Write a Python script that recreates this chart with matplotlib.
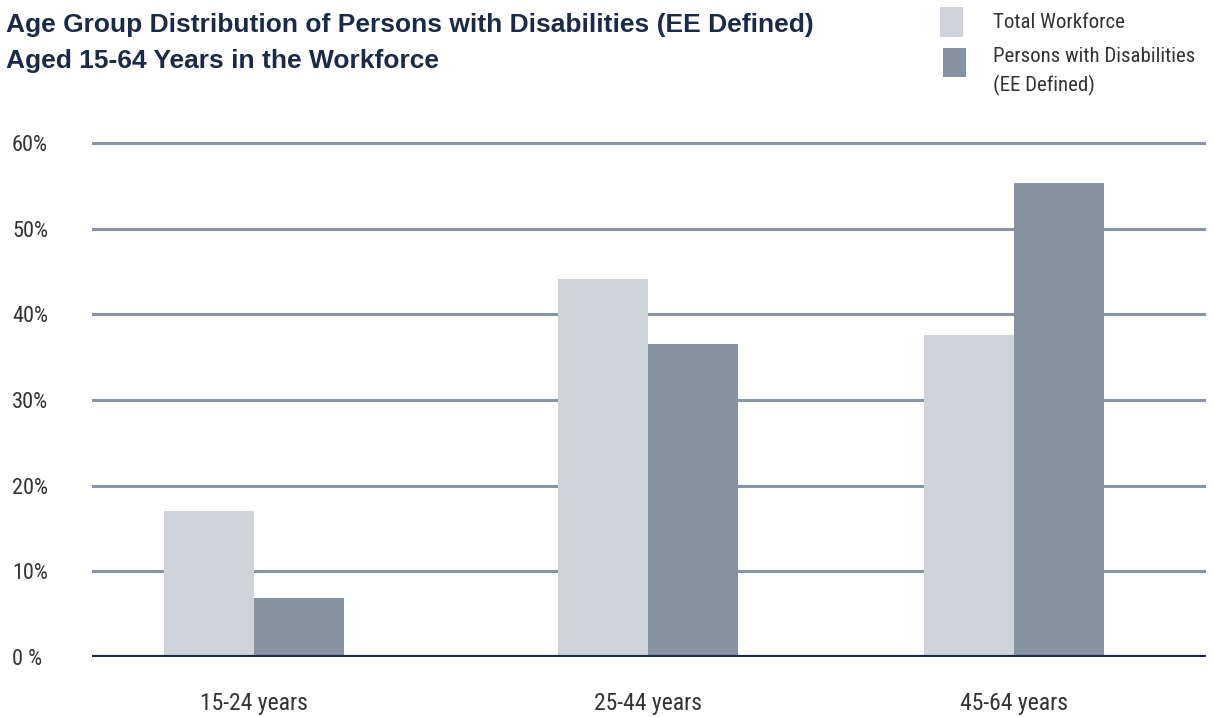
import matplotlib
matplotlib.use("Agg")
import matplotlib.pyplot as plt
from matplotlib import font_manager
from matplotlib.patches import Rectangle

# Data
categories = ["15-24 years", "25-44 years", "45-64 years"]
total_workforce = [17.0, 44.1, 37.6]
persons_disab = [6.9, 36.5, 55.3]
series_names = ["Total Workforce", "Persons with Disabilities", "(EE Defined)"]
ytick_values = [0, 10, 20, 30, 40, 50, 60]
ytick_labels = ["0 %", "10%", "20%", "30%", "40%", "50%", "60%"]
title_lines = ["Age Group Distribution of Persons with Disabilities (EE Defined)",
               "Aged 15-64 Years in the Workforce"]

names = {f.name for f in font_manager.fontManager.ttflist}


def pick(cands):
    for c in cands:
        if c in names:
            return c
    return "DejaVu Sans"


body_font = pick(["Roboto Condensed", "Liberation Sans Narrow", "Roboto", "Liberation Sans"])
title_font = pick(["Liberation Sans", "Roboto"])
plt.rcParams["font.family"] = [body_font, "DejaVu Sans"]

LIGHT = "#cfd4dc"
DARK = "#8793a1"
GRID = "#8a95a3"
NAVY = "#1b2b47"
TEXT = "#333333"

W, H = 1214, 717
fig = plt.figure(figsize=(W / 100, H / 100), dpi=100)

ax_left, ax_right = 92, 1206
ax_bottom, ax_top = 657, 130
ax = fig.add_axes([ax_left / W, 1 - ax_bottom / H, (ax_right - ax_left) / W, (ax_bottom - ax_top) / H])

ymax = (ax_bottom - ax_top) / ((657 - 143) / 60)
ax.set_ylim(0, ymax)

# group centres in data units (uneven spacing)
positions = [0.0, 1.0, 1.929]
bar_w = 0.228
ax.set_xlim(-0.411, 2.416)

ax.bar([p - bar_w / 2 for p in positions], total_workforce, width=bar_w, color=LIGHT, zorder=3, linewidth=0)
ax.bar([p + bar_w / 2 for p in positions], persons_disab, width=bar_w, color=DARK, zorder=3, linewidth=0)

for v in ytick_values[1:]:
    ax.axhline(v, color=GRID, lw=2.2, zorder=1)
ax.axhline(0, color=NAVY, lw=3, zorder=4)

for s in ax.spines.values():
    s.set_visible(False)
ax.set_yticks(ytick_values)
ax.set_yticklabels(ytick_labels, fontsize=16, color=TEXT)
ax.tick_params(axis="y", length=0, pad=(ax_left - 12) * 0.72)
for lbl in ax.get_yticklabels():
    lbl.set_horizontalalignment("left")
ax.set_xticks(positions)
ax.set_xticklabels(categories, fontsize=17, color=TEXT)
ax.tick_params(axis="x", length=0, pad=25)

# Title
for txt, base in zip(title_lines, [32, 68]):
    fig.text(6 / W, 1 - base / H, txt, fontsize=19, fontweight="bold", color=NAVY,
             va="baseline", ha="left", family=[title_font, "DejaVu Sans"])

# Legend
fig.patches.append(Rectangle((940 / W, 1 - 37 / H), 23 / W, 30 / H, transform=fig.transFigure,
                             facecolor=LIGHT, edgecolor="none"))
fig.patches.append(Rectangle((943 / W, 1 - 77 / H), 23 / W, 29 / H, transform=fig.transFigure,
                             facecolor=DARK, edgecolor="none"))
for txt, base in zip(series_names, [28, 62, 91]):
    fig.text(993 / W, 1 - base / H, txt, fontsize=15, color=TEXT, va="baseline", ha="left")

fig.savefig("out.png", dpi=100)
